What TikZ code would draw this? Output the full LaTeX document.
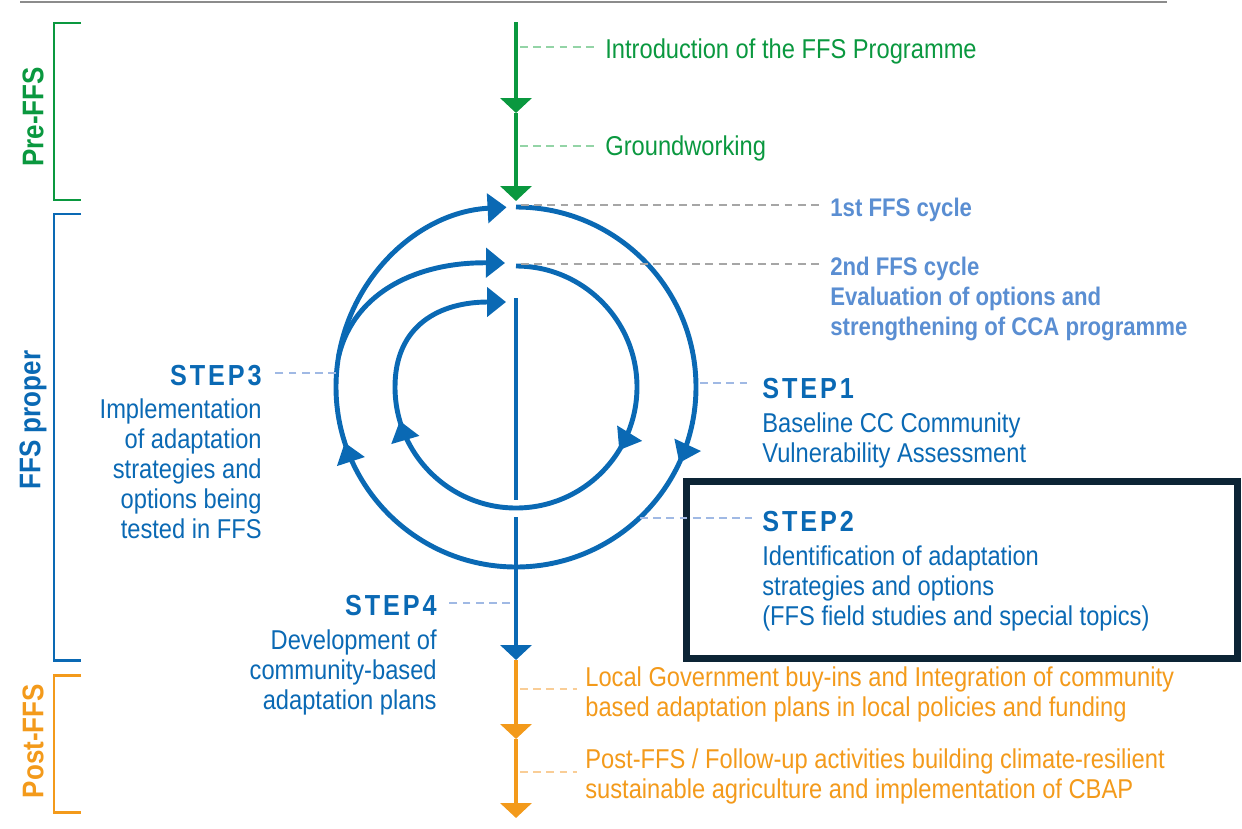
\documentclass[tikz,border=0pt]{standalone}
\usepackage{fontspec}
\setmainfont{Liberation Sans}[FakeStretch=0.87]
\newfontfamily\stepfam{Liberation Sans}[FakeStretch=0.87, LetterSpace=10]
\usetikzlibrary{arrows.meta,positioning,calc,decorations.markings}

\definecolor{ffsgreen}{HTML}{0A983F}
\definecolor{ffsblue}{HTML}{0A69B4}
\definecolor{ffsorange}{HTML}{F39A1B}
\definecolor{cycblue}{HTML}{5A8ED2}
\definecolor{boxnavy}{HTML}{0C2435}
\definecolor{dashgreen}{HTML}{93D4A6}
\definecolor{dashblue}{HTML}{A0B9E4}
\definecolor{dashorange}{HTML}{F9CD96}
\definecolor{dashgray}{HTML}{A6A6A6}

\newcommand{\txt}{\fontsize{15.5}{17}\selectfont}
\newcommand{\cyctxt}{\fontsize{14.5}{17}\selectfont\bfseries}
\newcommand{\steptxt}{\stepfam\bfseries\fontsize{16.5}{17}\selectfont}

\begin{document}
\begin{tikzpicture}[x=0.02cm, y=-0.02cm,
    every node/.style={inner sep=0pt, font=\txt},
    lbl/.style={anchor=base west, align=left},
    rlbl/.style={anchor=base east, align=right},
    lead/.style={line width=1.1pt, dash pattern=on 4.5pt off 3pt},
    stem/.style={line width=2.3pt},
    stemtip/.style={-{Triangle[length=0.3cm, width=0.62cm]}},
    ring/.style={ffsblue, line width=2.8pt},
    ringtip/.style={-{Triangle[length=0.38cm, width=0.58cm]}},
    midtips/.style 2 args={postaction={decorate}, decoration={markings,
        mark=at position #1 with {\arrow{Triangle[length=0.4cm, width=0.56cm]}},
        mark=at position #2 with {\arrow{Triangle[length=0.4cm, width=0.56cm]}}}},
    phase/.style={line width=1.7pt},
    phasetxt/.style={rotate=90, font=\bfseries\fontsize{17}{17}\selectfont}]

\useasboundingbox (0,0) rectangle (1242,829);
\draw[black!45, line width=1.1pt] (20,2) -- (1167,2);

% phase brackets on the left
\draw[phase, ffsgreen] (81,23) -- (54,23) -- (54,200) -- (81,200);
\draw[phase, ffsblue] (81,214) -- (54,214) -- (54,660) -- (81,660);
\draw[phase, ffsorange] (81,675) -- (54,675) -- (54,812) -- (81,812);
\node[phasetxt, text=ffsgreen] (pre) at (33,117) {Pre-FFS};
\node[phasetxt, text=ffsblue] (proper) at (33,420) {FFS proper};
\node[phasetxt, text=ffsorange] (post) at (33,741) {Post-FFS};

% main stem
\coordinate (s0) at (516,22);
\coordinate (s1) at (516,113);
\coordinate (s2) at (516,201);
\coordinate (b0) at (516,298);
\coordinate (b1) at (516,500);
\coordinate (b2) at (516,517);
\coordinate (b3) at (516,660);
\coordinate (o1) at (516,739);
\coordinate (o2) at (516,818);
\draw[stem, stemtip, ffsgreen] (s0) -- (s1);
\draw[stem, stemtip, ffsgreen] (s1) -- (s2);
\draw[stem, ffsblue] (b0) -- (b1);
\draw[stem, stemtip, ffsblue] (b2) -- (b3);
\draw[stem, stemtip, ffsorange] (b3) -- (o1);
\draw[stem, stemtip, ffsorange] (o1) -- (o2);

% the two FFS cycles
\coordinate (hub) at (516,387);
\draw[ring, ringtip, midtips={0.322}{0.706}]
  ($(hub)+(270:180)$) arc[start angle=270, end angle=627, radius=180];
\draw[ring, ringtip] ($(hub)+(190:180)$) .. controls (355,290) and (420,262) .. (505,263);
\draw[ring, midtips={0.45}{0.94}]
  ($(hub)+(270:121)$) arc[start angle=270, end angle=540, radius=121];
\draw[ring, ringtip] ($(hub)+(180:121)$) .. controls (395,325) and (440,302) .. (506,302);

\draw[boxnavy, line width=4pt] (686.5,481.5) rectangle (1237.5,658.5);

% labels (base = last line)
\node[lbl, text=ffsgreen] (intro) at (605,58) {Introduction of the FFS Programme};
\node[lbl, text=ffsgreen] (ground) at (605,155) {Groundworking};
\node[lbl, text=cycblue, font=\cyctxt] (cyc1) at (830,216) {1st FFS cycle};
\node[lbl, text=cycblue, font=\cyctxt] (cyc2) at (830,335)
  {2nd FFS cycle\\Evaluation of options and\\strengthening of CCA programme};
\node[lbl, text=ffsblue] (step1) at (762,462)
  {{\steptxt STEP1}\\[2pt]Baseline CC Community\\Vulnerability Assessment};
\node[lbl, text=ffsblue] (step2) at (762,625)
  {{\steptxt STEP2}\\[2pt]Identification of adaptation\\strategies and options\\(FFS field studies and special topics)};
\node[rlbl, text=ffsblue] (step3) at (262,538)
  {{\steptxt STEP3}\\[2pt]Implementation\\of adaptation\\strategies and\\options being\\tested in FFS};
\node[rlbl, text=ffsblue] (step4) at (437,709)
  {{\steptxt STEP4}\\[2pt]Development of\\community-based\\adaptation plans};
\node[lbl, text=ffsorange] (gov) at (585,716)
  {Local Government buy-ins and Integration of community\\based adaptation plans in local policies and funding};
\node[lbl, text=ffsorange] (follow) at (585,798)
  {Post-FFS / Follow-up activities building climate-resilient\\sustainable agriculture and implementation of CBAP};

% dashed leaders
\coordinate (lintro) at (520,47);
\coordinate (lground) at (520,146);
\coordinate (lcyc1) at (521,205);
\coordinate (lcyc2) at (521,264);
\coordinate (r1) at (700,383);
\coordinate (r2) at (640,518);
\coordinate (r3) at (336,373);
\coordinate (r4) at (510,603);
\coordinate (lgov) at (520,689);
\coordinate (lfollow) at (520,772);
\draw[lead, dashgreen] (lintro) -- ([xshift=-0.16cm]lintro -| intro.west);
\draw[lead, dashgreen] (lground) -- ([xshift=-0.16cm]lground -| ground.west);
\draw[lead, dashgray] (lcyc1) -- ([xshift=-0.2cm]lcyc1 -| cyc1.west);
\draw[lead, dashgray] (lcyc2) -- ([xshift=-0.2cm]lcyc2 -| cyc2.west);
\draw[lead, dashblue] (r1) -- ([xshift=-0.2cm]r1 -| step1.west);
\draw[lead, dashblue] (r2) -- ([xshift=-0.2cm]r2 -| step2.west);
\draw[lead, dashblue] (r3) -- ([xshift=0.22cm]r3 -| step3.east);
\draw[lead, dashblue] (r4) -- ([xshift=0.2cm]r4 -| step4.east);
\draw[lead, dashorange] (lgov) -- ([xshift=-0.16cm]lgov -| gov.west);
\draw[lead, dashorange] (lfollow) -- ([xshift=-0.16cm]lfollow -| follow.west);
\end{tikzpicture}
\end{document}
